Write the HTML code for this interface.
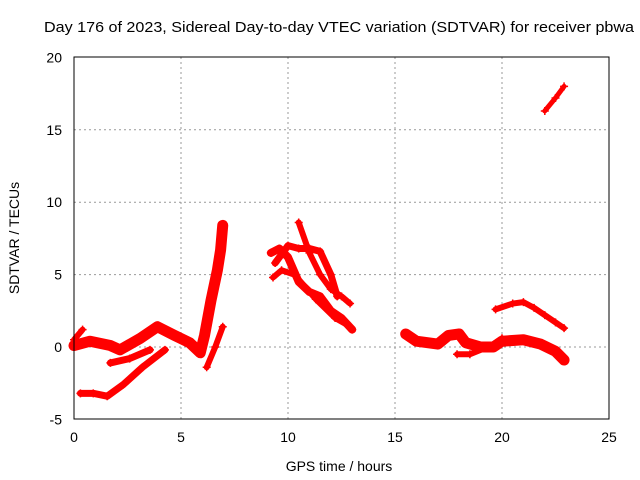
<!DOCTYPE html>
<html><head><meta charset="utf-8"><style>
body{margin:0;background:#fff;}
svg{display:block;font-family:"Liberation Sans",sans-serif;}
</style></head><body>
<svg id="chart" width="640" height="480">
<rect x="0" y="0" width="640" height="480" fill="#fff"/>
<text x="44" y="32" font-size="15" textLength="590" lengthAdjust="spacingAndGlyphs">Day 176 of 2023, Sidereal Day-to-day VTEC variation (SDTVAR) for receiver pbwa</text>
<text x="339" y="471" font-size="14" text-anchor="middle">GPS time / hours</text>
<text x="19" y="238" font-size="14" text-anchor="middle" transform="rotate(-90 19 238)">SDTVAR / TECUs</text>
<g id="grid"></g><g id="ticks"></g><g id="marks"></g>
<rect x="74" y="57" width="535" height="362" fill="none" stroke="#000" stroke-width="1"/>
</svg>
<script>
const xTicks=[0,5,10,15,20,25];
const yTicks=[-5,0,5,10,15,20];
const trackMain=[[0,0.1],[0.75,0.4],[1.7,0.1],[2.15,-0.2],[3.1,0.6],[3.9,1.4],[4.7,0.8],[5.4,0.3],[5.9,-0.4],[6.1,0.8],[6.4,3.2],[6.7,5.3],[6.85,6.7],[6.95,8.4]];
const trackStart=[[0,0.5],[0.4,1.2]];
const trackLow1=[[1.7,-1.1],[2.6,-0.8],[3.55,-0.2]];
const trackLow2=[[0.3,-3.2],[0.9,-3.2],[1.55,-3.4],[2.3,-2.6],[3.2,-1.4],[4.25,-0.2]];
const trackDip=[[6.2,-1.4],[6.6,0],[6.95,1.4]];
const trackM1=[[9.2,6.5],[9.6,6.8],[10.0,6.2],[10.5,4.5],[11,3.8],[11.5,3.5],[12,2.5],[12.5,2.0],[13,1.2]];
const trackM2=[[10.5,8.6],[11,6.5],[11.5,5.0],[12,4.0],[12.5,3.5],[12.9,3.0]];
const trackM3=[[9.4,5.8],[10,7.0],[10.5,6.8],[11,6.8],[11.5,6.6],[12,5.0],[12.3,3.5]];
const trackM4=[[9.3,4.8],[9.7,5.3],[10.3,5.0],[11.3,3.3],[12.2,2.0],[12.8,1.5]];
const trackR1=[[15.5,0.9],[16,0.4],[17,0.2],[17.5,0.8],[18,0.9],[18.3,0.3],[19,0],[19.6,0],[20,0.4],[21,0.5],[21.8,0.2],[22.5,-0.3],[22.9,-0.9]];
const trackR2=[[17.9,-0.5],[18.5,-0.5],[19.5,0.1],[20,0.6]];
const trackR3=[[19.7,2.6],[20.5,3.0],[21,3.1],[21.5,2.7],[22,2.2],[22.5,1.7],[22.9,1.3]];
const trackR4=[[22.0,16.3],[22.5,17.2],[22.9,18.0]];
const tracks=[trackMain,trackStart,trackLow1,trackLow2,trackDip,trackM1,trackM2,trackM3,trackM4,trackR1,trackR2,trackR3,trackR4];
const widths=[11,6,7,7,6,8,6,7,6,11,6,6,5];
const X=v=>74+v*(535/25), Y=v=>347-v*(362/25);
const NS='http://www.w3.org/2000/svg';
const g=document.getElementById('grid'),t=document.getElementById('ticks'),m=document.getElementById('marks');
function mk(tag,at,p){const e=document.createElementNS(NS,tag);for(const k in at)e.setAttribute(k,at[k]);p.appendChild(e);return e;}
xTicks.forEach(v=>{
  if(v>0&&v<25){const l=mk('line',{x1:X(v),x2:X(v),y1:57,y2:419,stroke:'#999','stroke-dasharray':'2,3'},g);
  
  }
  const tk=mk('text',{x:X(v),y:442,'font-size':14,'text-anchor':'middle'},t);tk.textContent=v;
  
  
});
yTicks.forEach(v=>{
  if(v>-5&&v<20){const l=mk('line',{x1:74,x2:609,y1:Y(v),y2:Y(v),stroke:'#999','stroke-dasharray':'2,3'},g);
  
  }
  const tk=mk('text',{x:62,y:Y(v)+5,'font-size':14,'text-anchor':'end'},t);tk.textContent=v;
  
  
});
tracks.forEach((tr,i)=>{
  const pl=mk('polyline',{points:tr.map(p=>X(p[0])+','+Y(p[1])).join(' '),fill:'none',stroke:'#f00','stroke-width':widths[i],'stroke-linejoin':'round','stroke-linecap':'round'},m);
  
  
  tr.forEach(p=>{
    const c=mk('path',{d:`M${X(p[0])-4},${Y(p[1])}h8M${X(p[0])},${Y(p[1])-4}v8`,stroke:'#f00','stroke-width':1.5},m);
    
    
  });
});
</script>
</body></html>
